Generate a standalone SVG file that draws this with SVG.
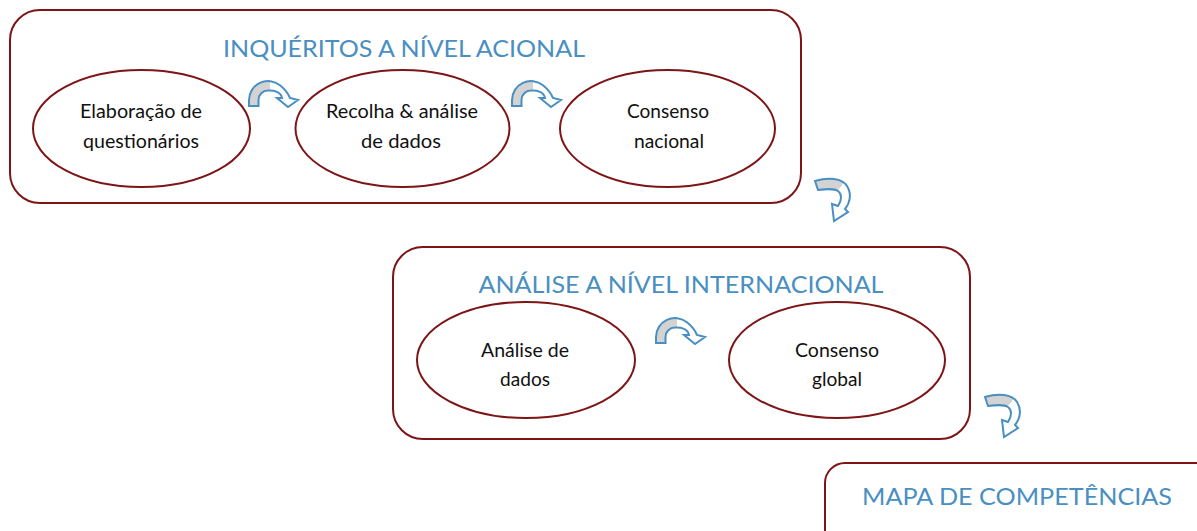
<svg xmlns="http://www.w3.org/2000/svg" width="1197" height="531" viewBox="0 0 1197 531">
<style>
.box{fill:#ffffff;stroke:#7d1517;stroke-width:2}
.ell{fill:#ffffff;stroke:#7d1517;stroke-width:2}
.title{font-family:Lato,"Open Sans",sans-serif;font-size:24px;fill:#4a8fc1;text-anchor:middle}
.lbl{font-family:Lato,"Open Sans",sans-serif;font-size:18.5px;fill:#111111;text-anchor:middle}
.arr{stroke:#4a8fc1;stroke-width:2;stroke-linejoin:miter}
</style>
<defs>
<linearGradient id="gH" x1="0" y1="0" x2="1" y2="0">
<stop offset="0" stop-color="#d3d3d3"/><stop offset="0.42" stop-color="#d3d3d3"/><stop offset="0.42" stop-color="#ffffff"/><stop offset="1" stop-color="#ffffff"/>
</linearGradient>
<linearGradient id="gD" x1="0" y1="0" x2="1" y2="1">
<stop offset="0" stop-color="#d3d3d3"/><stop offset="0.46" stop-color="#d3d3d3"/><stop offset="0.46" stop-color="#ffffff"/><stop offset="1" stop-color="#ffffff"/>
</linearGradient>
<path id="arcArrow" d="M -19,6 L -19,0 A 19 19 0 0 1 12,-14.7 Q 19,-9 22,-2 L 30,0 L 20,7 L 9,-2 L 14,-2 C 13,-8 6,-10 0,-9.5 A 9.5 9.5 0 0 0 -9.5,0 L -9.5,6 Z"/>
<path id="downArrow" d="M 815,181 C 828,177 842,178 847,186 C 852,194 850,203 845,209 L 848,212 L 834,221 L 832,204 L 838,206 C 842,200 842,194 838,191 C 834,188 826,189 818,190 Z"/>
</defs>

<g id="box-inqueritos">
<rect class="box" x="10" y="10" width="791" height="193" rx="30" ry="30"/>
<text class="title" x="404" y="57" textLength="362" lengthAdjust="spacingAndGlyphs">INQUÉRITOS A NÍVEL ACIONAL</text>
</g>
<g id="node-elaboracao">
<ellipse class="ell" cx="141.5" cy="128.5" rx="108.5" ry="58.5"/>
<text class="lbl" x="141" y="118" textLength="122" lengthAdjust="spacingAndGlyphs">Elaboração de</text>
<text class="lbl" x="141" y="148" textLength="116" lengthAdjust="spacingAndGlyphs">questionários</text>
</g>
<g id="node-recolha">
<ellipse class="ell" cx="402.5" cy="128.5" rx="107" ry="58.5"/>
<text class="lbl" x="402" y="118" textLength="152" lengthAdjust="spacingAndGlyphs">Recolha &amp; análise</text>
<text class="lbl" x="401" y="148" textLength="80" lengthAdjust="spacingAndGlyphs">de dados</text>
</g>
<g id="node-consenso-nacional">
<ellipse class="ell" cx="667.5" cy="128.5" rx="107.5" ry="58.5"/>
<text class="lbl" x="668" y="118" textLength="82" lengthAdjust="spacingAndGlyphs">Consenso</text>
<text class="lbl" x="669" y="148" textLength="70" lengthAdjust="spacingAndGlyphs">nacional</text>
</g>

<g id="box-analise">
<rect class="box" x="393" y="247" width="577" height="192" rx="30" ry="30"/>
<text class="title" x="681" y="293" textLength="405" lengthAdjust="spacingAndGlyphs">ANÁLISE A NÍVEL INTERNACIONAL</text>
</g>
<g id="node-analise-dados">
<ellipse class="ell" cx="526" cy="360" rx="109" ry="58"/>
<text class="lbl" x="525" y="357" textLength="88" lengthAdjust="spacingAndGlyphs">Análise de</text>
<text class="lbl" x="525" y="386" textLength="50" lengthAdjust="spacingAndGlyphs">dados</text>
</g>
<g id="node-consenso-global">
<ellipse class="ell" cx="837" cy="360" rx="108" ry="58"/>
<text class="lbl" x="837" y="357" textLength="84" lengthAdjust="spacingAndGlyphs">Consenso</text>
<text class="lbl" x="837" y="386" textLength="50" lengthAdjust="spacingAndGlyphs">global</text>
</g>

<g id="box-mapa">
<rect class="box" x="825" y="463" width="420" height="120" rx="20" ry="20"/>
<text class="title" x="1017" y="505" textLength="310" lengthAdjust="spacingAndGlyphs">MAPA DE COMPETÊNCIAS</text>
</g>

<g id="connectors">
<use href="#arcArrow" class="arr" fill="url(#gH)" transform="translate(268,100)"/>
<use href="#arcArrow" class="arr" fill="url(#gH)" transform="translate(531,100)"/>
<use href="#arcArrow" class="arr" fill="url(#gH)" transform="translate(675,337)"/>
<use href="#downArrow" class="arr" fill="url(#gD)"/>
<use href="#downArrow" class="arr" fill="url(#gD)" transform="translate(170,216)"/>
</g>
</svg>
